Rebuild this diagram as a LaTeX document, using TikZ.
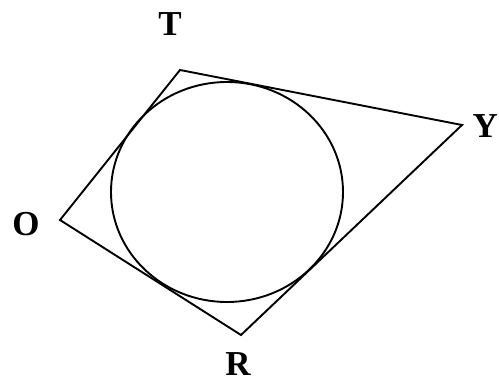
\documentclass[tikz,border=0pt]{standalone}
\usepackage{fontspec}
\setmainfont{Liberation Serif}
\newfontfamily\lblfont{Liberation Serif Bold}
\begin{document}
\begin{tikzpicture}[x=1pt,y=-1pt,
  lbl/.style={font=\lblfont\fontsize{35}{40}\selectfont, inner sep=0pt},
  edge/.style={line width=1.9pt}]
\useasboundingbox (0,0) rectangle (499,382);
\coordinate (T) at (180,70);
\coordinate (Y) at (462,125);
\coordinate (R) at (241,335);
\coordinate (O) at (60,220);
\draw[edge, line join=miter] (T) -- (Y) -- (R) -- (O) -- cycle;
\coordinate (c) at (227,192);
\draw[edge] (c) ellipse [x radius=116, y radius=110];
\node[lbl] (tT) at (170,24) {T};
\node[lbl, anchor=east] (tY) at (498,126) {Y};
\node[lbl] (tO) at (26,224) {O};
\node[lbl] (tR) at (238,364) {R};
\end{tikzpicture}
\end{document}
